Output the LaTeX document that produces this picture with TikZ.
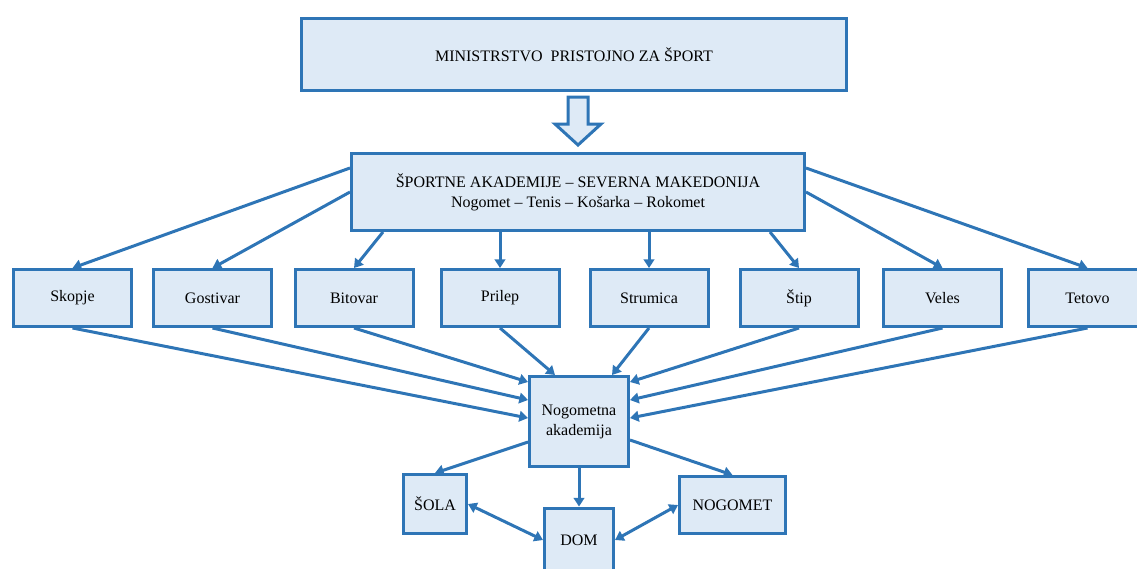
\documentclass[tikz,border=0pt]{standalone}
\usepackage{fontspec}
\setmainfont{Liberation Serif}
\usetikzlibrary{arrows.meta,calc}

\definecolor{okvir}{HTML}{2E75B6}
\definecolor{polnilo}{HTML}{DEEAF6}

\tikzstyle{mesto} = [
	minimum width = 118*0.75pt,
	minimum height = 57*0.75pt
	]

\begin{document}
\begin{tikzpicture}[
	x = 0.75pt, y = -0.75pt,
	color = okvir,
	line width = 2.25pt,
	every node/.style = {
	draw = okvir,
	fill = polnilo,
	text = black,
	rectangle,
	align = center,
	font = \fontsize{12}{15}\selectfont
	},
	>={Triangle[length=6.5pt,width=8pt]}
	]
	\useasboundingbox (0,0) rectangle (1137,568);

			   \node[minimum width=545*0.75pt, minimum height=72*0.75pt] (ministrstvo) at (574,54.5) {MINISTRSTVO\ \ PRISTOJNO ZA ŠPORT};
			   \node[minimum width=453*0.75pt, minimum height=77*0.75pt] (akademije) at (578,192) {ŠPORTNE AKADEMIJE – SEVERNA MAKEDONIJA\\Nogomet – Tenis – Košarka – Rokomet};

			   \draw[fill=polnilo] ($(akademije.north)+(0,-7)$) -- ++(-23,-21) -- ++(13,0) -- ++(0,-27)
			   	-- ++(20,0) -- ++(0,27) -- ++(13,0) -- cycle;

			   \node[mesto] (skopje)   at (72.5,298)  {Skopje};
			   \node[mesto] (gostivar) at (212.5,298) {Gostivar};
			   \node[mesto] (bitovar)  at (354,298)   {Bitovar};
			   \node[mesto] (prilep)   at (500,298)   {Prilep};
			   \node[mesto] (strumica) at (649,298)   {Strumica};
			   \node[mesto] (stip)     at (799,298)   {Štip};
			   \node[mesto] (veles)    at (942.5,298) {Veles};
			   \node[mesto] (tetovo)   at (1087.5,298) {Tetovo};

			   \node[minimum width=99*0.75pt, minimum height=90*0.75pt] (nogometna) at (579,421.5) {Nogometna\\akademija};
			   \node[minimum width=63*0.75pt, minimum height=59*0.75pt] (sola) at (435,504) {ŠOLA};
			   \node[minimum width=69*0.75pt, minimum height=64*0.75pt] (dom) at (579,540) {DOM};
			   \node[minimum width=106*0.75pt, minimum height=57*0.75pt] (nogomet) at (732.5,505) {NOGOMET};

			   \draw[->] ($(akademije.north west)!0.2!(akademije.south west)$) -- (skopje.north);
			   \draw[->] (akademije.west) -- (gostivar.north);
			   \draw[->] ($(akademije.south west)+(33,0)$) -- (bitovar.north);
			   \draw[->] (prilep.north |- akademije.south) -- (prilep.north);
			   \draw[->] (strumica.north |- akademije.south) -- (strumica.north);
			   \draw[->] ($(akademije.south east)+(-36,0)$) -- (stip.north);
			   \draw[->] (akademije.east) -- (veles.north);
			   \draw[->] ($(akademije.north east)!0.2!(akademije.south east)$) -- (tetovo.north);

			   \draw[->] (skopje.south) -- ($(nogometna.north west)+(0,43)$);
			   \draw[->] (gostivar.south) -- ($(nogometna.north west)+(0,25)$);
			   \draw[->] (bitovar.south) -- ($(nogometna.north west)+(0,7)$);
			   \draw[->] (prilep.south) -- ($(nogometna.north)+(-24,0)$);
			   \draw[->] (strumica.south) -- ($(nogometna.north)+(33,0)$);
			   \draw[->] (stip.south) -- ($(nogometna.north east)+(0,7)$);
			   \draw[->] (veles.south) -- ($(nogometna.north east)+(0,25)$);
			   \draw[->] (tetovo.south) -- ($(nogometna.north east)+(0,43)$);

			   \draw[->] ($(nogometna.south west)+(0,-26)$) -- (sola.north);
			   \draw[->] (nogometna.south) -- (dom.north);
			   \draw[->] ($(nogometna.south east)+(0,-28)$) -- (nogomet.north);
			   \draw[<->] (sola.east) -- (dom.west);
			   \draw[<->] (dom.east) -- (nogomet.west);
		   \end{tikzpicture}
\end{document}
